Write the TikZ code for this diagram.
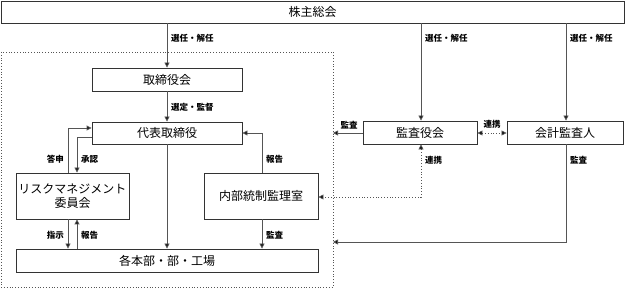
\documentclass[tikz,border=0pt]{standalone}
\usepackage{fontspec}
\setmainfont{Noto Sans CJK JP}
\usetikzlibrary{arrows.meta}
\definecolor{boxline}{HTML}{333333}
\definecolor{conline}{HTML}{555555}
\tikzset{
  box/.style={draw=boxline, line width=0.9pt, fill=white, inner sep=0pt, font=\fontsize{12}{14}\selectfont, text=black, align=center},
  conn/.style={draw=conline, line width=0.9pt, -{Triangle[length=5pt,width=5pt,fill=black]}},
  dconn/.style={draw=conline, line width=0.8pt, dotted, -{Triangle[length=5pt,width=5pt,fill=black]}},
  lbl/.style={font=\fontsize{8.5}{10}\selectfont\bfseries, text=black, inner sep=0pt},
}
\begin{document}
\begin{tikzpicture}[x=1pt,y=-1pt]
\useasboundingbox (0,0) rectangle (625,288);
% dotted company region
\draw[conline, line width=0.8pt, dotted] (1,52) rectangle (333,287);
% nodes
\node[box, minimum width=623pt, minimum height=22pt] (soukai) at (312.5,12) {株主総会};
\node[box, minimum width=150pt, minimum height=23pt] (tori) at (167,79.5) {取締役会};
\node[box, minimum width=150pt, minimum height=22pt] (daihyo) at (167,133) {代表取締役};
\node[box, minimum width=113pt, minimum height=46pt] (rm) at (72.5,196) {リスクマネジメント\\委員会};
\node[box, minimum width=114pt, minimum height=46pt] (naibu) at (261,196) {内部統制監理室};
\node[box, minimum width=302pt, minimum height=23pt] (kaku) at (167,260.5) {各本部・部・工場};
\node[box, minimum width=114pt, minimum height=23pt] (kansa) at (420,132.5) {監査役会};
\node[box, minimum width=116pt, minimum height=23pt] (kaikei) at (565,132.5) {会計監査人};
% free ends on the dotted border
\coordinate (bA) at (333,133);
\coordinate (bB) at (333,242);
% shareholders' meeting
\draw[conn] (soukai.south -| tori.north) -- (tori.north);
\node[lbl, anchor=west] at (171,38) {選任・解任};
\draw[conn] (soukai.south -| 421,0) -- (kansa.north -| 421,0);
\node[lbl, anchor=west] at (425,38) {選任・解任};
\draw[conn] (soukai.south -| 566,0) -- (kaikei.north -| 566,0);
\node[lbl, anchor=west] at (570,38) {選任・解任};
% board
\draw[conn] (tori.south) -- (daihyo.north);
\node[lbl, anchor=west] at (171,107) {選定・監督};
\draw[conn] (daihyo.south) -- (kaku.north -| daihyo.south);
% risk management committee
\draw[conn] (rm.north -| 68,0) -- (68,128) -- (daihyo.west |- 0,128);
\node[lbl, anchor=east] at (64,159) {答申};
\draw[conn] (daihyo.west |- 0,137) -- (77,137) -- (rm.north -| 77,0);
\node[lbl, anchor=west] at (81,159) {承認};
\draw[conn] (rm.south -| 68,0) -- (kaku.north -| 68,0);
\node[lbl, anchor=east] at (64,235) {指示};
\draw[conn] (kaku.north -| 77,0) -- (rm.south -| 77,0);
\node[lbl, anchor=west] at (81,235) {報告};
% internal control
\draw[conn] (naibu.north -| 262,0) -- (262,133) -- (daihyo.east |- 0,133);
\node[lbl, anchor=west] at (266,159) {報告};
\draw[conn] (naibu.south -| 262,0) -- (kaku.north -| 262,0);
\node[lbl, anchor=west] at (266,235) {監査};
% auditors
\draw[conn] (kansa.west |- 0,133) -- (bA);
\node[lbl] at (349,125) {監査};
\draw[dconn, {Triangle[length=5pt,width=5pt,fill=black]}-{Triangle[length=5pt,width=5pt,fill=black]}] (kansa.east |- 0,133) -- (kaikei.west |- 0,133);
\node[lbl] at (492,124) {連携};
\draw[dconn, {Triangle[length=5pt,width=5pt,fill=black]}-{Triangle[length=5pt,width=5pt,fill=black]}] (kansa.south -| 421,0) -- (421,197) -- (naibu.east |- 0,197);
\node[lbl, anchor=west] at (425,160) {連携};
\draw[conn] (kaikei.south -| 566,0) -- (566,242) -- (bB);
\node[lbl, anchor=west] at (570,160) {監査};
\end{tikzpicture}
\end{document}
